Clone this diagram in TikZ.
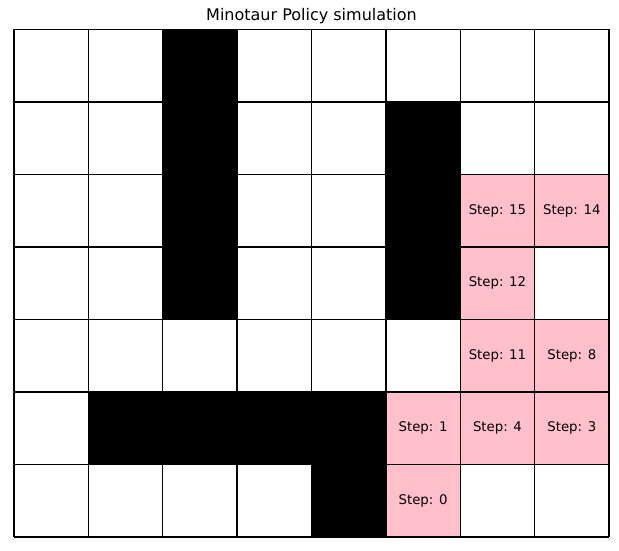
\documentclass[tikz,border=0pt]{standalone}
\usepackage{fontspec}
\setmainfont{DejaVu Sans}
\definecolor{pinkcell}{HTML}{FFC0CB}

\begin{document}
\begin{tikzpicture}[x=1pt,y=-1pt]
        \def\cols{8}
        \def\rows{7}
        \def\cw{74.375}
        \def\ch{72.5}

        \useasboundingbox (0,0) rectangle (619,551);
        \node[font=\fontsize{16}{19}\selectfont] (title) at (311.5,16) {Minotaur Policy simulation};

        \begin{scope}[shift={(14pt,-29.5pt)},x=\cw pt,y=-\ch pt]
          \foreach \c/\r in {2/0,2/1,5/1,2/2,5/2,2/3,5/3,1/5,2/5,3/5,4/5,4/6} {
            \fill[black] (\c,\r) rectangle ++(1,1);
          }
          \foreach \c/\r/\s in {6/2/15,7/2/14,6/3/12,6/4/11,7/4/8,5/5/1,6/5/4,7/5/3,5/6/0} {
            \fill[pinkcell] (\c,\r) rectangle ++(1,1);
            \node[font=\fontsize{13.3}{16}\selectfont] (step\s) at (\c+0.5,\r+0.5) {Step: \s};
          }
          \foreach \c in {0,...,\cols} {
            \draw[line width=1.3pt] (\c,0) -- (\c,\rows);
          }
          \foreach \r in {0,...,\rows} {
            \draw[line width=1.3pt] (0,\r) -- (\cols,\r);
          }
        \end{scope}
      \end{tikzpicture}
\end{document}
